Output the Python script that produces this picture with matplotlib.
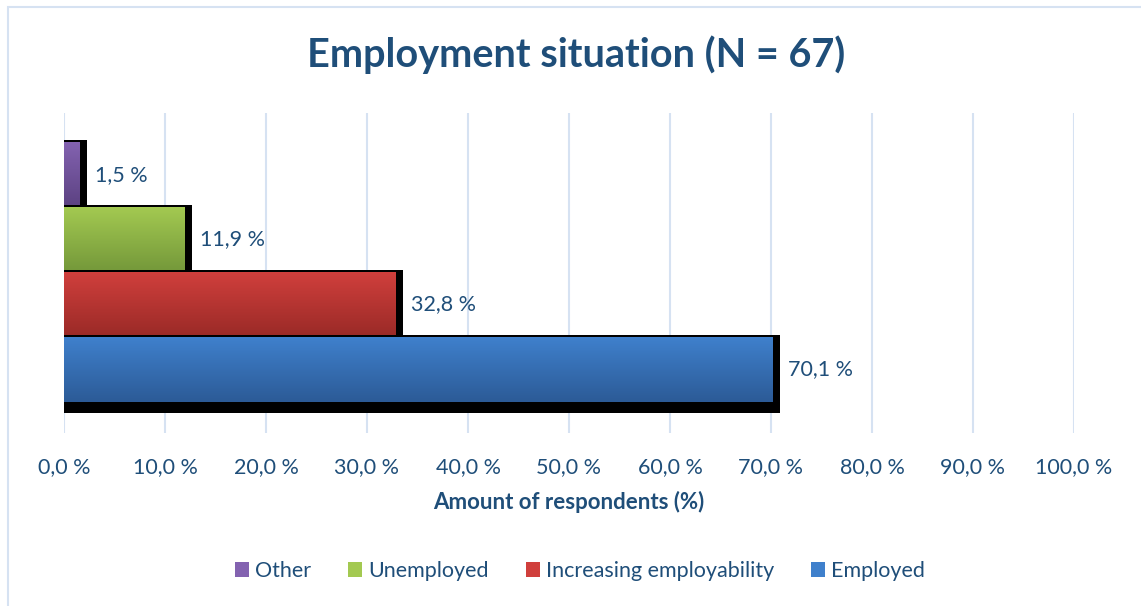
import numpy as np
import matplotlib
matplotlib.use("Agg")
import matplotlib.pyplot as plt
from matplotlib.patches import Rectangle
from matplotlib.colors import LinearSegmentedColormap

plt.rcParams['font.family'] = ['Lato', 'DejaVu Sans']

# Data (drawn top to bottom)
categories = ["Other", "Unemployed", "Increasing employability", "Employed"]
values = [1.5, 11.9, 32.8, 70.1]
top_colors = ["#8362b0", "#a3c951", "#d03f3c", "#3f80cc"]
bottom_colors = ["#5c4282", "#74983a", "#9a2a27", "#2c5b97"]
xticks = list(range(0, 101, 10))

TEXT = "#1f4e79"
GRID = "#d6e2f2"

W, H = 1141, 606
AX_L, AX_R, AX_T, AX_B = 64, 1074, 113, 433
fig = plt.figure(figsize=(W / 100, H / 100), dpi=100)
ax = fig.add_axes([AX_L / W, 1 - AX_B / H, (AX_R - AX_L) / W, (AX_B - AX_T) / H])

ax.set_xlim(0, 100)
ax.set_ylim(0, 1)
px_x = 100 / (AX_R - AX_L)   # data units per pixel
px_y = 1 / (AX_B - AX_T)

# Light chart border
fig.patches.append(Rectangle((8 / W, -0.1), 1.2, 1 - 7 / H + 0.1, transform=fig.transFigure,
                             fill=False, edgecolor=GRID, linewidth=1.5, zorder=0))

ax.set_xticks(xticks)
ax.set_xticklabels([f"{t:.1f} %".replace(".", ",") for t in xticks], color=TEXT, fontsize=15.5)
ax.tick_params(axis='x', length=0, pad=17)
ax.set_yticks([])
for s in ax.spines.values():
    s.set_visible(False)
ax.xaxis.grid(True, color=GRID, linewidth=1.5)
ax.set_axisbelow(True)

n = len(categories)
h = 0.203
center = 0.503

handles = []
for i, (cat, v) in enumerate(zip(categories, values)):
    y = center + (n / 2 - 0.5 - i) * h
    z = 2 + 3 * i
    # drop shadow, offset down and to the right
    sh = Rectangle((0, y - h / 2 - 11 * px_y), v + 8 * px_x, h + 13 * px_y,
                   facecolor="black", edgecolor="none", zorder=z, clip_on=False)
    ax.add_patch(sh)
    bars = ax.barh(y, v, height=h, color=top_colors[i], edgecolor="none",
                   zorder=z + 1, label=cat)
    patch = bars.patches[0]
    cmap = LinearSegmentedColormap.from_list(cat, [bottom_colors[i], top_colors[i]])
    grad = np.linspace(0, 1, 64).reshape(-1, 1)
    im = ax.imshow(grad, cmap=cmap, aspect='auto', origin='lower',
                   extent=(0, v, y - h / 2, y + h / 2), zorder=z + 2)
    im.set_clip_path(patch)
    handles.append(patch)
    ax.text(v + 1.6, y, f"{v:.1f} %".replace(".", ","), va='center', ha='left',
            color=TEXT, fontsize=15.5, zorder=20)

ax.set_xlim(0, 100)
ax.set_ylim(0, 1)

ax.set_xlabel("Amount of respondents (%)", color=TEXT, fontsize=16, fontweight='bold', labelpad=10)

fig.text(576 / W, 1 - 55 / H, "Employment situation (N = 67)", ha='center', va='center',
         color=TEXT, fontsize=28.5, fontweight='bold')

leg = fig.legend(handles, categories, loc='center', bbox_to_anchor=(580 / W, 1 - 571 / H),
                 ncol=4, frameon=False, fontsize=15.5, handlelength=0.65, handleheight=0.65,
                 handletextpad=0.3, columnspacing=1.7)
for t in leg.get_texts():
    t.set_color(TEXT)

fig.savefig("out.png", dpi=100)
